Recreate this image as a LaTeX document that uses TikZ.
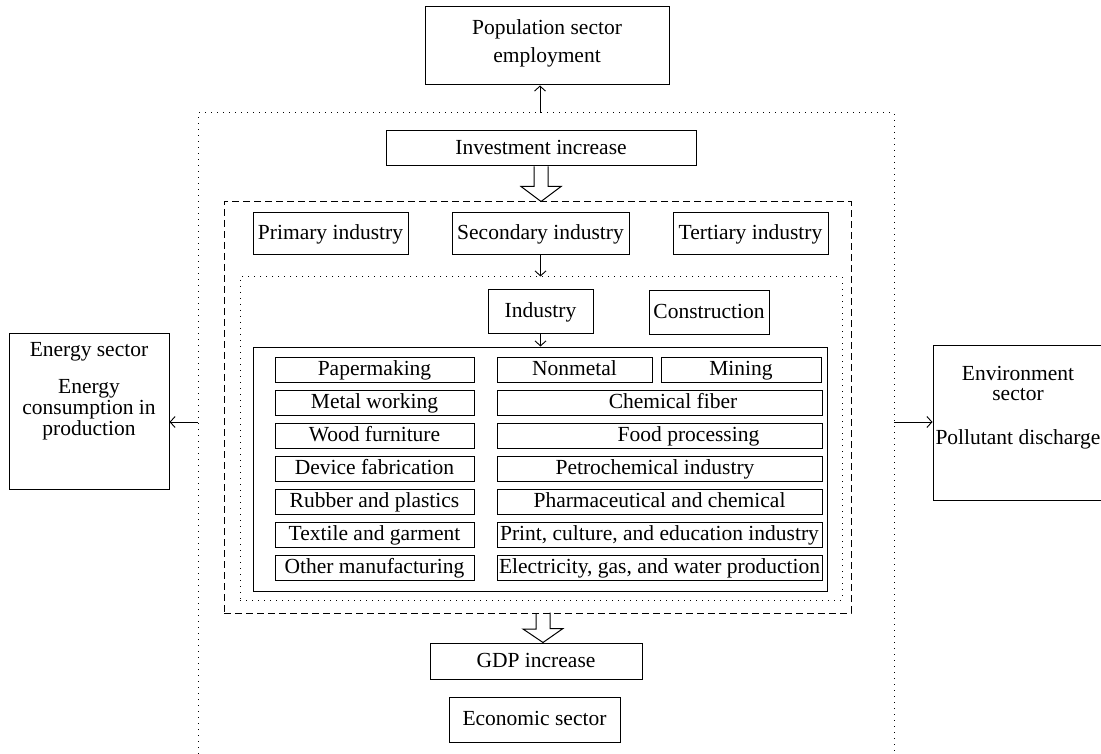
\documentclass[tikz,border=0pt]{standalone}
\usepackage{fontspec}
\setmainfont{Liberation Serif}
\usetikzlibrary{arrows.meta,calc}
\begin{document}
\begin{tikzpicture}[x=1pt,y=-1pt,
  font=\fontsize{21.5}{21}\selectfont,
  bx/.style={draw,line width=1pt,inner sep=0pt,text height=16pt,text depth=4pt},
  emptybx/.style={draw,line width=1pt,inner sep=0pt},
  txt/.style={inner sep=0pt,align=center},
  dotline/.style={line width=1pt,dash pattern=on 1pt off 5pt},
  dashline/.style={line width=1pt,dash pattern=on 7pt off 4pt},
  arr/.style={line width=0.9pt,-{Straight Barb[length=5pt,width=11pt,line width=0.9pt]}},
  hollow/.style={line width=1pt,line join=miter},
]
\useasboundingbox (0,0) rectangle (1101,754);

% outer dotted frame (economic sector)
\coordinate (otl) at (198,113);
\coordinate (otr) at (894,113);
\draw[dotline] (198,754) -- (otl) -- (otr) -- (894,754);

% population
\node[emptybx,minimum width=244,minimum height=78] (pop) at (547,46) {};
\node[txt] (poptext) at (547,43) {Population sector\\[7pt]employment};
\coordinate (popfoot) at (540,113);
\draw[arr] (popfoot) -- (popfoot |- pop.south);

% investment
\node[bx,minimum width=310,minimum height=35] (inv) at (541,148.5) {Investment increase};

% dashed frame
\node[draw,dashline,inner sep=0pt,minimum width=627,minimum height=411] (dash) at (537.5,407.5) {};

\draw[hollow] ($(inv.south)+(-7,0)$) -- ++(0,20) -- ++(-13,0) -- ($(inv.south)+(0,35)$) -- ++(20,-15) -- ++(-13,0) -- ++(0,-20);

% three industries
\node[bx,minimum width=155,minimum height=42] (prim) at (330.5,234) {Primary industry};
\node[bx,minimum width=177,minimum height=42] (sec) at (540.5,234) {Secondary industry};
\node[bx,minimum width=155,minimum height=42] (tert) at (750.5,234) {Tertiary industry};

% inner dotted frame
\node[draw,dotline,inner sep=0pt,minimum width=602,minimum height=323] (inner) at (541,438.5) {};
\draw[arr] (sec.south) -- (sec.south |- inner.north);

\node[bx,minimum width=105,minimum height=43] (ind) at (540.5,311.5) {Industry};
\node[bx,minimum width=120,minimum height=43] (cons) at (709,312.5) {Construction};

% big box
\node[emptybx,minimum width=574,minimum height=244] (big) at (540,469) {};
\draw[arr] (ind.south) -- (ind.south |- big.north);

% left column
\node[bx,minimum width=199,minimum height=25] (l1) at (374.5,369.5) {Papermaking};
\node[bx,minimum width=199,minimum height=25] (l2) at (374.5,402.5) {Metal working};
\node[bx,minimum width=199,minimum height=25] (l3) at (374.5,435.5) {Wood furniture};
\node[bx,minimum width=199,minimum height=25] (l4) at (374.5,468.5) {Device fabrication};
\node[bx,minimum width=199,minimum height=25] (l5) at (374.5,501.5) {Rubber and plastics};
\node[bx,minimum width=199,minimum height=25] (l6) at (374.5,534.5) {Textile and garment};
\node[bx,minimum width=199,minimum height=25] (l7) at (374.5,567.5) {Other manufacturing};

% right column
\node[bx,minimum width=155,minimum height=25] (r1a) at (574.5,369.5) {Nonmetal};
\node[bx,minimum width=160,minimum height=25] (r1b) at (741,369.5) {Mining};
\node[bx,minimum width=325,minimum height=25] (r2) at (659.5,402.5) {\hspace*{27pt}Chemical fiber};
\node[bx,minimum width=325,minimum height=25] (r3) at (659.5,435.5) {\hspace*{58pt}Food processing};
\node[bx,minimum width=325,minimum height=25] (r4) at (659.5,468.5) {\hspace*{-9pt}Petrochemical industry};
\node[bx,minimum width=325,minimum height=25] (r5) at (659.5,501.5) {Pharmaceutical and chemical};
\node[bx,minimum width=325,minimum height=25] (r6) at (659.5,534.5) {Print, culture, and education industry};
\node[bx,minimum width=325,minimum height=25] (r7) at (659.5,567.5) {Electricity, gas, and water production};

% GDP
\node[bx,minimum width=212,minimum height=36] (gdp) at (536,661) {GDP increase};
\coordinate (gtop) at (543,613);
\draw[hollow] ($(gtop)+(-7,0)$) -- ++(0,16) -- ++(-13,0) -- (gtop |- gdp.north) -- ++(20,-14) -- ++(-13,0) -- ++(0,-16);

\node[bx,minimum width=171,minimum height=45] (ecosec) at (534.5,719.5) {Economic sector};

% energy
\node[emptybx,minimum width=160,minimum height=156] (energy) at (89,411) {};
\node[txt] (energytext) at (89,391.5) {Energy sector\\[16pt]Energy\\consumption in\\production};
\coordinate (eout) at (198,422);
\draw[arr] (eout) -- (energy.east |- eout);

% environment
\node[emptybx,minimum width=170,minimum height=155] (env) at (1018,422.5) {};
\node[txt] (envtext) at (1018,408) {Environment\\[-1pt]sector\\[23pt]Pollutant discharge};
\coordinate (vout) at (894,422);
\draw[arr] (vout) -- (env.west |- vout);
\end{tikzpicture}
\end{document}
